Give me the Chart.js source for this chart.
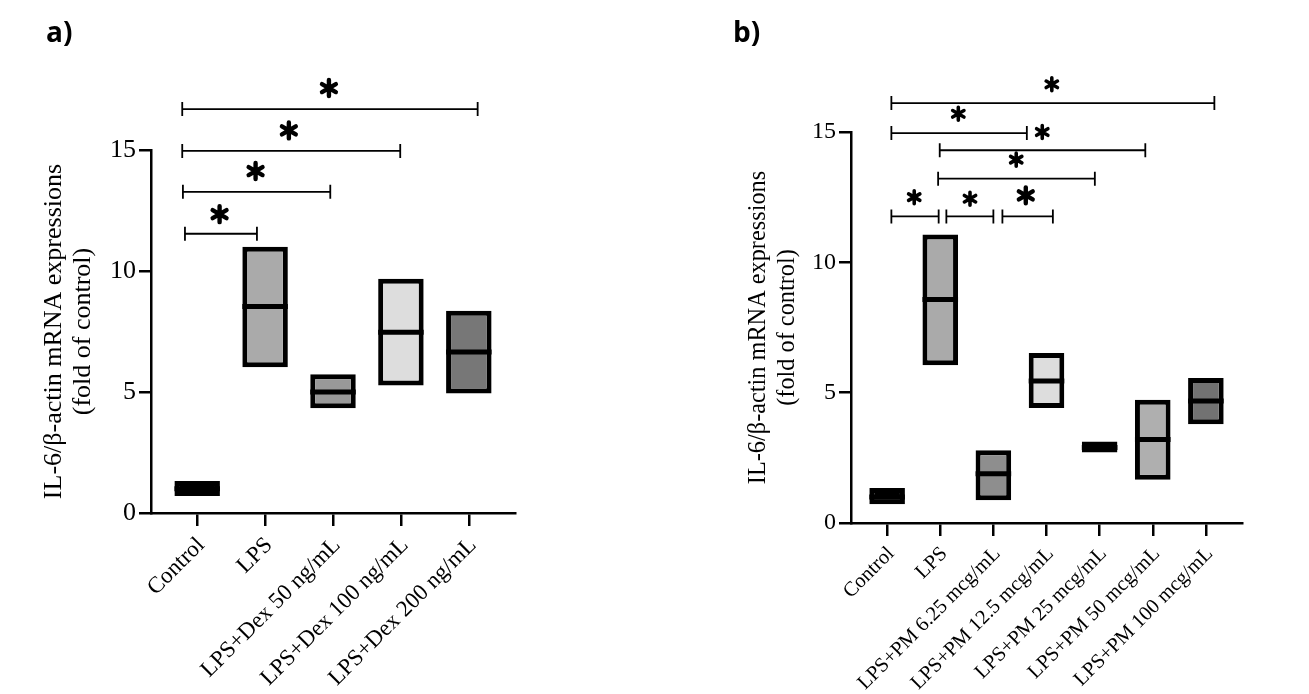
<!DOCTYPE html>
<html>
<head>
<meta charset="utf-8">
<script src="https://cdn.jsdelivr.net/npm/chart.js@4.4.1/dist/chart.umd.min.js"></script>
<style>
  html, body { margin: 0; padding: 0; background: #fff; }
  body { width: 1309px; height: 694px; position: relative; overflow: hidden; }
  .panel { position: absolute; top: 0; height: 694px; }
  #wrapA { left: 0; width: 654px; }
  #wrapB { left: 654px; width: 655px; }
  .tag { position: absolute; top: 12px; font: bold 28px "Open Sans", sans-serif; color: #000; }
</style>
</head>
<body>
<div class="panel" id="wrapA"><canvas id="chartA" width="654" height="694"></canvas></div>
<div class="panel" id="wrapB"><canvas id="chartB" width="655" height="694"></canvas></div>
<div class="tag" style="left:46px">a)</div>
<div class="tag" style="left:733px">b)</div>
<script>
// panel a: dexamethasone
const dexLabels = ["Control", "LPS", "LPS+Dex 50 ng/mL", "LPS+Dex 100 ng/mL", "LPS+Dex 200 ng/mL"];
const dexLow = [0.70, 6.02, 4.33, 5.27, 4.94];
const dexHigh = [1.32, 11.0, 5.73, 9.68, 8.36];
const dexMedian = [1.0, 8.53, 5.0, 7.47, 6.65];
const dexColors = ["#000000", "#aaaaaa", "#999999", "#dddddd", "#777777"];
// [from, to, level]
const dexBrackets = [[-0.22, 4.13, 16.69], [-0.22, 2.99, 14.96], [-0.21, 1.96, 13.27], [-0.18, 0.88, 11.54]];
const dexStars = [[1.94, 17.56], [1.35, 15.81], [0.86, 14.13], [0.33, 12.35]];

// panel b: PM extract
const pmLabels = ["Control", "LPS", "LPS+PM 6.25 mcg/mL", "LPS+PM 12.5 mcg/mL", "LPS+PM 25 mcg/mL", "LPS+PM 50 mcg/mL", "LPS+PM 100 mcg/mL"];
const pmLow = [0.72, 6.05, 0.87, 4.41, 2.70, 1.66, 3.79];
const pmHigh = [1.34, 11.07, 2.79, 6.52, 3.13, 4.73, 5.56];
const pmMedian = [1.0, 8.57, 1.89, 5.45, 2.9, 3.2, 4.68];
const pmColors = ["#000000", "#aaaaaa", "#8e8e8e", "#dddddd", "#000000", "#afafaf", "#727272"];
const pmBrackets = [[0.08, 6.16, 16.11], [0.08, 2.63, 14.96], [0.99, 4.86, 14.30], [0.96, 3.91, 13.21],
    [0.08, 0.97, 11.76], [1.115, 2.0, 11.76], [2.17, 3.12, 11.76]];
const pmStars = [[3.10, 16.83], [1.34, 15.70], [2.92, 15.0], [2.43, 13.94], [0.51, 12.5], [1.56, 12.44], [2.61, 12.57]];

const yTicks = [0, 5, 10, 15];
const yTitle = ["IL-6/\u03b2-actin mRNA expressions", "(fold of control)"];
const serif = "'Liberation Serif', 'Times New Roman', serif";

// six-armed heavy asterisk
function drawStar(ctx, x, y, r) {
    ctx.beginPath();
    for (let k = 0; k < 3; k++) {
        const a = Math.PI / 2 + k * Math.PI / 3;
        ctx.moveTo(x + r * Math.cos(a), y + r * Math.sin(a));
        ctx.lineTo(x - r * Math.cos(a), y - r * Math.sin(a));
    }
    ctx.lineWidth = r * 0.55;
    ctx.lineCap = "round";
    ctx.stroke();
}

// medians, significance brackets and stars
const marks = {
    id: "marks",
    afterDatasetsDraw(chart, args, opts) {
        const ctx = chart.ctx;
        const xs = chart.scales.x;
        const ys = chart.scales.y;
        const bars = chart.getDatasetMeta(0).data;
        ctx.save();
        ctx.strokeStyle = "#000";
        ctx.lineWidth = 5;
        opts.medians.forEach((m, i) => {
            const b = bars[i];
            const y = ys.getPixelForValue(m);
            ctx.beginPath();
            ctx.moveTo(b.x - b.width / 2, y);
            ctx.lineTo(b.x + b.width / 2, y);
            ctx.stroke();
        });
        ctx.lineWidth = 1.8;
        opts.brackets.forEach(([a, b, v]) => {
            const x1 = xs.getPixelForValue(a);
            const x2 = xs.getPixelForValue(b);
            const y = ys.getPixelForValue(v);
            ctx.beginPath();
            ctx.moveTo(x1, y); ctx.lineTo(x2, y);
            ctx.moveTo(x1, y - 7); ctx.lineTo(x1, y + 7);
            ctx.moveTo(x2, y - 7); ctx.lineTo(x2, y + 7);
            ctx.stroke();
        });
        opts.stars.forEach(([sx, sy], i) => {
            drawStar(ctx, xs.getPixelForValue(sx), ys.getPixelForValue(sy), opts.starSizes[i]);
        });
        ctx.restore();
    },
};

function buildChart(id, p) {
    return new Chart(document.getElementById(id), {
        type: "bar",
        data: {
            datasets: [{
                data: p.labels.map((_, i) => ({ x: i, y: [p.low[i], p.high[i]] })),
                backgroundColor: p.colors,
                borderColor: "#000",
                borderWidth: 5,
                borderSkipped: false,
                barPercentage: 0.67,
                categoryPercentage: 1,
            }],
        },
        options: {
            responsive: false,
            animation: false,
            layout: { padding: { top: p.padTop, right: p.padRight, left: 0, bottom: 0 } },
            plugins: {
                legend: { display: false },
                tooltip: { enabled: false },
                marks: { medians: p.median, brackets: p.brackets, stars: p.stars, starSizes: p.starSizes },
            },
            scales: {
                x: {
                    type: "linear",
                    min: -0.68,
                    max: p.labels.length - 1 + 0.68,
                    offset: false,
                    afterBuildTicks: (s) => { s.ticks = p.labels.map((_, i) => ({ value: i })); },
                    afterFit: (s) => { s.height = p.xAxisH; },
                    ticks: {
                        autoSkip: false,
                        minRotation: 45,
                        maxRotation: 45,
                        padding: p.xPad,
                        labelOffset: 4,
                        color: "#000",
                        font: { family: serif, size: p.xFont },
                        callback: (v) => p.labels[v],
                    },
                    grid: { drawOnChartArea: false, offset: false, tickLength: 13, color: "#000", lineWidth: 2.5 },
                    border: { color: "#000", width: 2.5 },
                },
                y: {
                    min: 0,
                    max: 15,
                    afterBuildTicks: (s) => { s.ticks = yTicks.map((v) => ({ value: v })); },
                    afterFit: (s) => { s.width = p.yAxisW; },
                    ticks: { padding: 3, color: "#000", font: { family: serif, size: p.yFont } },
                    grid: { drawOnChartArea: false, tickLength: 12, color: "#000", lineWidth: 2.5 },
                    border: { color: "#000", width: 2.5 },
                    title: {
                        display: true,
                        text: yTitle,
                        color: "#000",
                        font: { family: serif, size: p.titleFont, lineHeight: p.titleLH },
                        padding: { top: p.titlePad, bottom: 0 },
                    },
                },
            },
        },
        plugins: [marks],
    });
}

buildChart("chartA", {
    labels: dexLabels, low: dexLow, high: dexHigh, median: dexMedian, colors: dexColors,
    brackets: dexBrackets, stars: dexStars, starSizes: [8, 8, 8, 8],
    padTop: 150, padRight: 139, yAxisW: 151, xAxisH: 181,
    xFont: 23, xPad: 6, yFont: 26, titleFont: 26, titleLH: 1.115, titlePad: 40,
});

buildChart("chartB", {
    labels: pmLabels, low: pmLow, high: pmHigh, median: pmMedian, colors: pmColors,
    brackets: pmBrackets, stars: pmStars, starSizes: [6.5, 6.5, 6.5, 6.5, 6.5, 6.5, 8],
    padTop: 132, padRight: 67, yAxisW: 197, xAxisH: 171,
    xFont: 20.5, xPad: 6, yFont: 24, titleFont: 24.3, titleLH: 1.21, titlePad: 90,
});
</script>
</body>
</html>
